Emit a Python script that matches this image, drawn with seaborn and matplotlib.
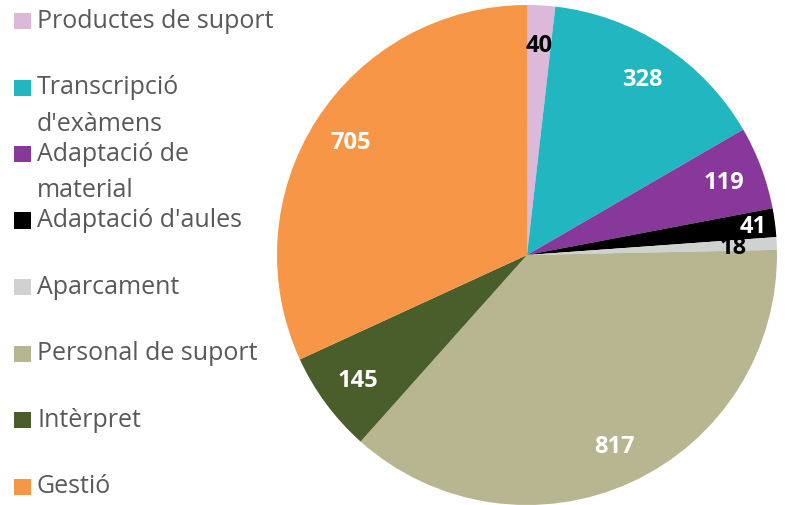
import matplotlib
matplotlib.use("Agg")
import matplotlib.pyplot as plt
from matplotlib.patches import Rectangle
import seaborn as sns

# data, in drawing order (clockwise from 12 o'clock)
labels = ["Productes de suport", "Transcripció\nd'exàmens", "Adaptació de\nmaterial",
          "Adaptació d'aules", "Aparcament", "Personal de suport", "Intèrpret", "Gestió"]
values = [40, 328, 119, 41, 18, 817, 145, 705]

colors = ["#DDB9D9", "#22B6C1", "#87389A", "#000000",
          "#D0D2D2", "#B8B591", "#4A5E2C", "#F79646"]
text_colors = ["black", "white", "white", "white", "black", "white", "white", "white"]

sns.set_theme(style="white")
plt.rcParams["font.family"] = ["Open Sans", "DejaVu Sans"]

W, H = 785, 506
fig = plt.figure(figsize=(W / 100, H / 100), dpi=100)

# pie axes: centre around (527, 256) px, radius 250 px
ax = fig.add_axes([277 / W, 0 / H, 500 / W, 500 / H])
total = sum(values)
wedges, _, autotexts = ax.pie(
    values, colors=colors, startangle=90, counterclock=False,
    autopct=lambda p: f"{round(p * total / 100)}", pctdistance=0.84,
    wedgeprops=dict(linewidth=0), radius=1.0,
    textprops=dict(fontsize=17, fontweight="bold"))
for t, c in zip(autotexts, text_colors):
    t.set_color(c)
# small slices sit near the rim in the original
x, y = autotexts[3].get_position()
autotexts[3].set_position((x * 1.085, y * 1.05))
x, y = autotexts[4].get_position()
autotexts[4].set_position((x * 0.985, y * 0.85))
ax.set_xlim(-1, 1)
ax.set_ylim(-1, 1)
ax.set_aspect("equal")
ax.axis("off")

# legend on the left, drawn by hand so wrapped labels overflow like the original
step = 66.5
for i, (lab, col) in enumerate(zip(labels, colors)):
    yc = 22 + i * step
    fig.patches.append(Rectangle((14 / W, 1 - (yc + 8) / H), 17 / W, 16 / H,
                                 transform=fig.transFigure, facecolor=col,
                                 edgecolor="none"))
    fig.text(37 / W, 1 - (yc - 13) / H, lab, fontsize=18, color="#595959",
             va="top", ha="left", linespacing=1.6)

fig.savefig("out.png", dpi=100)
